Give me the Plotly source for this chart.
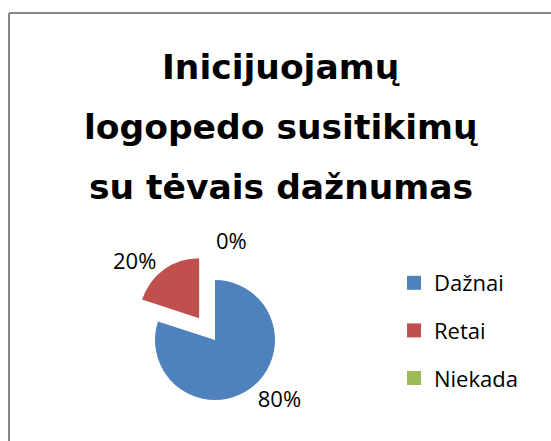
import plotly.graph_objects as go

categories = ["Dažnai", "Retai", "Niekada"]
values = [80, 20, 0]
pulls = [0, 0.45, 0]
colors = ["#4F81BD", "#C0504D", "#9BBB59"]
title_lines = ["Inicijuojamų", "logopedo susitikimų", "su tėvais dažnumas"]
zero_label = "0%"

W, H = 551, 441
FONT = "Open Sans"
TFONT = "DejaVu Sans"

fig = go.Figure()

# pie
cx, cy, box = 215, 340, 174
fig.add_trace(go.Pie(
    labels=categories, values=values, pull=pulls, sort=False,
    direction="clockwise", rotation=0,
    marker=dict(colors=colors, line=dict(width=0)),
    texttemplate=["%{percent:.0%}", "%{percent:.0%}", ""],
    textposition="outside",
    textfont=dict(family=FONT, size=22, color="#000000"),
    showlegend=False, hoverinfo="label+percent",
    domain=dict(x=[(cx - box / 2) / W, (cx + box / 2) / W],
                y=[(H - cy - box / 2) / H, (H - cy + box / 2) / H]),
))

# legend entries (one group each so gaps can be set)
for name, col in zip(categories, colors):
    fig.add_trace(go.Scatter(
        x=[None], y=[None], mode="markers", name=name,
        legendgroup=name,
        marker=dict(symbol="square", size=14, color=col,
                    line=dict(width=0)),
    ))

# title lines
centers = [67, 127, 187]
ann = []
for txt, c in zip(title_lines, centers):
    ann.append(dict(text="<b>%s</b>" % txt, x=281 / W, y=(H - c) / H,
                    xref="paper", yref="paper", xanchor="center",
                    yanchor="middle", showarrow=False,
                    font=dict(family=TFONT, size=34.5, color="#000000")))
# label of the zero-value slice (Plotly would move it and add a leader line)
ann.append(dict(text=zero_label, x=231 / W, y=(H - 240) / H,
                xref="paper", yref="paper", xanchor="center",
                yanchor="middle", showarrow=False,
                font=dict(family=FONT, size=22, color="#000000")))

fig.update_layout(
    width=W, height=H,
    margin=dict(l=0, r=0, t=0, b=0, autoexpand=False),
    paper_bgcolor="white", plot_bgcolor="white",
    xaxis=dict(visible=False), yaxis=dict(visible=False),
    annotations=ann,
    legend=dict(x=394 / W, y=(H - 262) / H, xanchor="left", yanchor="top",
                font=dict(family=FONT, size=22, color="#000000"),
                tracegroupgap=16, bgcolor="rgba(0,0,0,0)"),
    shapes=[
        dict(type="line", xref="paper", yref="paper",
             x0=9 / W, x1=1, y0=(H - 13) / H, y1=(H - 13) / H,
             line=dict(color="#878787", width=2)),
        dict(type="line", xref="paper", yref="paper",
             x0=9 / W, x1=9 / W, y0=0, y1=(H - 13) / H,
             line=dict(color="#878787", width=2)),
    ],
)

fig.write_html("out.html",
               config={"displayModeBar": False},
               post_script="document.body.style.margin='0';"
                           "document.body.style.overflow='hidden';")
